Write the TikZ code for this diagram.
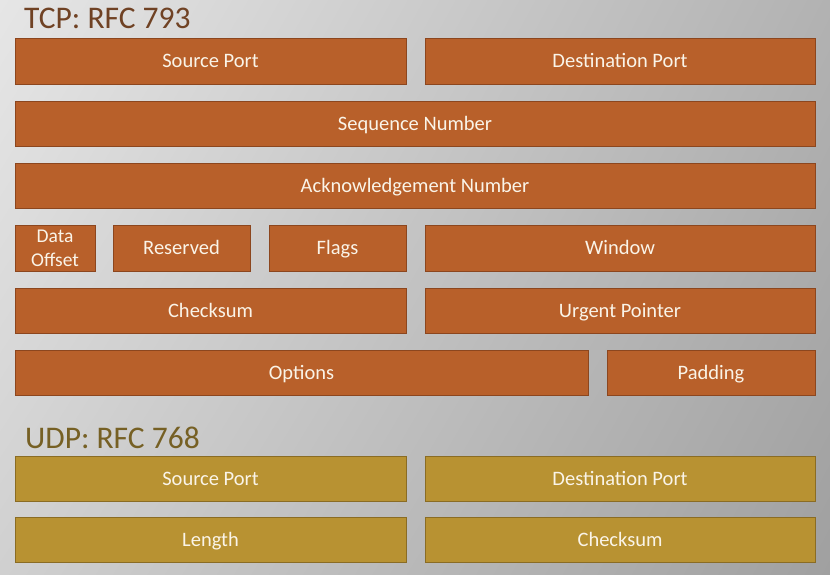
\documentclass[tikz,border=0pt]{standalone}
\usepackage{fontspec}
\setmainfont{Carlito}
\usetikzlibrary{shadings}
\definecolor{tcpfill}{RGB}{184,96,42}
\definecolor{tcpline}{RGB}{140,70,30}
\definecolor{udpfill}{RGB}{184,146,50}
\definecolor{udpline}{RGB}{138,108,36}
\definecolor{tcptitle}{RGB}{112,66,36}
\definecolor{udptitle}{RGB}{118,96,36}
\definecolor{boxtext}{RGB}{250,244,232}
\definecolor{bgA}{RGB}{230,230,230}
\definecolor{bgB}{RGB}{178,178,178}
\definecolor{bgC}{RGB}{208,208,208}
\definecolor{bgD}{RGB}{160,160,160}
\tikzset{
  field/.style={draw, line width=1pt, text=boxtext, inner sep=0pt, outer sep=0pt,
    font=\fontsize{20.5}{22}\selectfont, align=center},
  oneline/.style={text height=13pt, text depth=0pt},
  tcpbox/.style={field, oneline, fill=tcpfill, draw=tcpline},
  udpbox/.style={field, oneline, fill=udpfill, draw=udpline},
  offbox/.style={field, fill=tcpfill, draw=tcpline, font=\fontsize{19.5}{24}\selectfont},
  title/.style={anchor=base west, inner sep=0pt, font=\fontsize{31.5}{33}\selectfont},
}
\begin{document}
\begin{tikzpicture}[x=1pt,y=-1pt]
\shade[upper left=bgA, upper right=bgB, lower left=bgC, lower right=bgD] (0,0) rectangle (830,574);
\useasboundingbox (0,0) rectangle (830,574);
% TCP
\node[title, text=tcptitle] (tcpt) at (24,28.5) {TCP: RFC 793};
\node[tcpbox, minimum width=391pt, minimum height=46pt] (sp) at (210.5,61) {Source Port};
\node[tcpbox, minimum width=390pt, minimum height=46pt] (dp) at (620,61) {Destination Port};
\node[tcpbox, minimum width=800pt, minimum height=45pt] (seq) at (415,123.5) {Sequence Number};
\node[tcpbox, minimum width=800pt, minimum height=45pt] (ack) at (415,185.5) {Acknowledgement Number};
\node[offbox, minimum width=80pt, minimum height=46pt] (off) at (55,248) {Data\\Offset};
\node[tcpbox, minimum width=137pt, minimum height=46pt] (res) at (181.5,248) {Reserved};
\node[tcpbox, minimum width=137pt, minimum height=46pt] (flg) at (337.5,248) {Flags};
\node[tcpbox, minimum width=390pt, minimum height=46pt] (win) at (620,248) {Window};
\node[tcpbox, minimum width=391pt, minimum height=45pt] (cks) at (210.5,310.5) {Checksum};
\node[tcpbox, minimum width=390pt, minimum height=45pt] (urg) at (620,310.5) {Urgent Pointer};
\node[tcpbox, minimum width=573pt, minimum height=45pt] (opt) at (301.5,372.5) {Options};
\node[tcpbox, minimum width=208pt, minimum height=45pt] (pad) at (711,372.5) {Padding};
% UDP
\node[title, text=udptitle] (udpt) at (25,448) {UDP: RFC 768};
\node[udpbox, minimum width=391pt, minimum height=45pt] (usp) at (210.5,479) {Source Port};
\node[udpbox, minimum width=390pt, minimum height=45pt] (udp) at (620,479) {Destination Port};
\node[udpbox, minimum width=391pt, minimum height=45pt] (ulen) at (210.5,539.5) {Length};
\node[udpbox, minimum width=390pt, minimum height=45pt] (ucks) at (620,539.5) {Checksum};
\end{tikzpicture}
\end{document}
